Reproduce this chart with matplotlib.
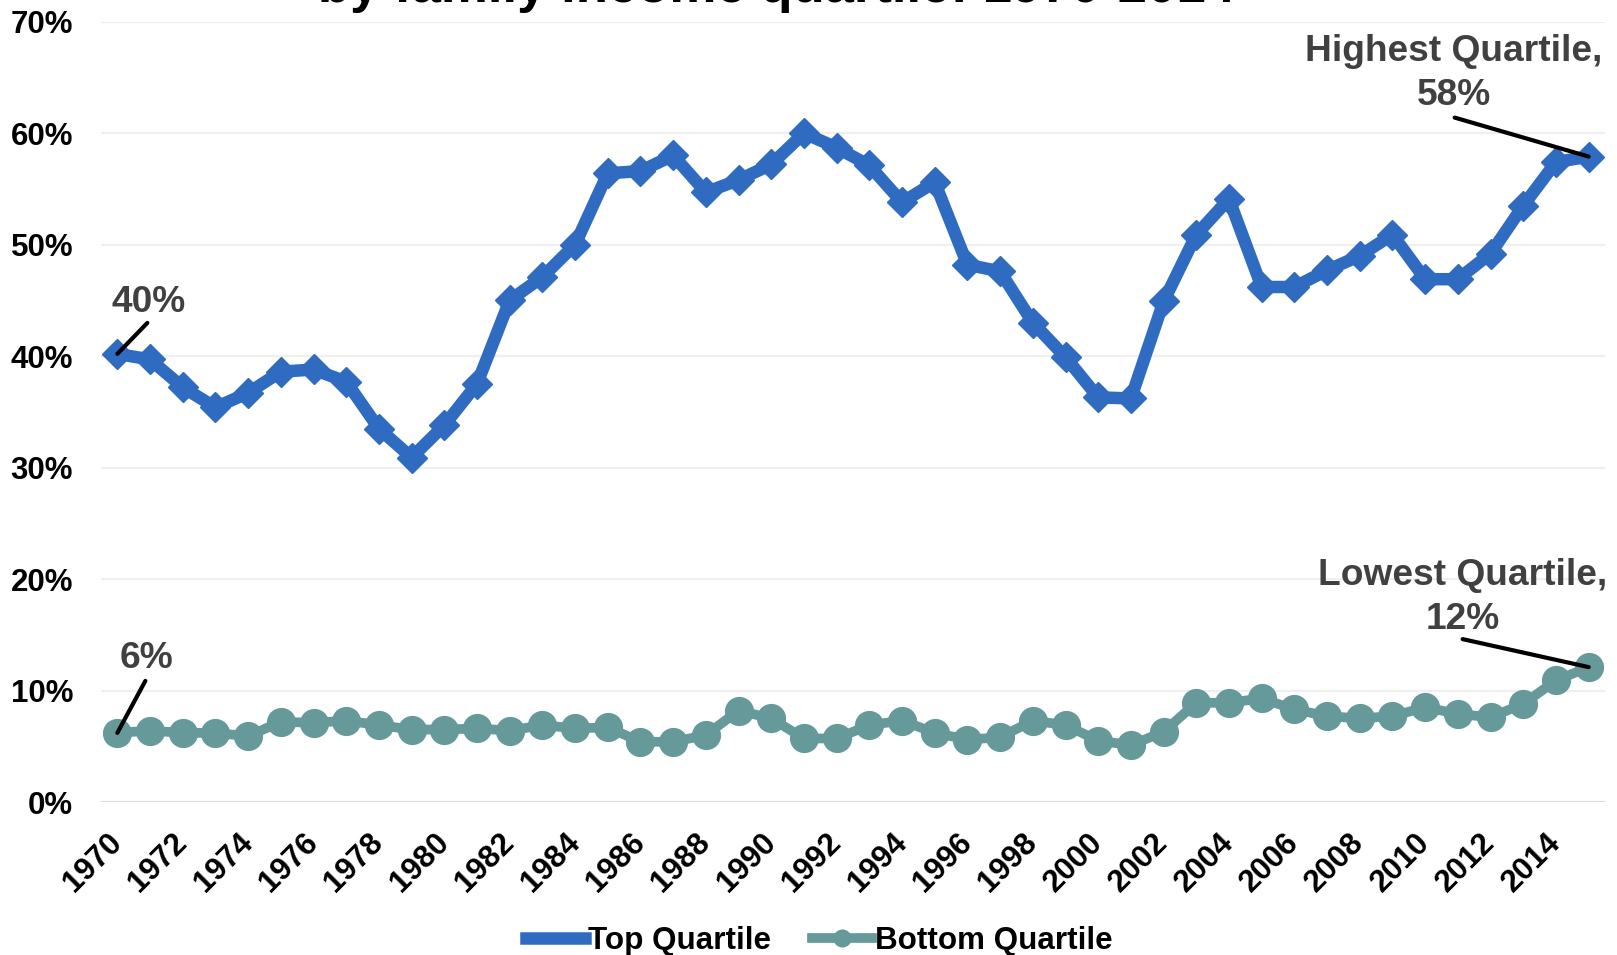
import matplotlib
matplotlib.use("Agg")
import matplotlib.pyplot as plt
from matplotlib.lines import Line2D
from matplotlib.ticker import FuncFormatter, MultipleLocator

plt.rcParams['font.family'] = ['Liberation Sans', 'DejaVu Sans']

years = list(range(1970, 2016))
top_quartile = [40.2, 39.7, 37.2, 35.4, 36.7, 38.6, 38.8, 37.7, 33.5, 30.9,
                33.8, 37.5, 45.0, 47.1, 50.0, 56.4, 56.6, 58.0, 54.7, 55.8,
                57.2, 60.0, 58.7, 57.1, 53.8, 55.6, 48.2, 47.6, 43.0, 39.9,
                36.3, 36.2, 44.9, 50.9, 54.1, 46.2, 46.2, 47.7, 49.0, 50.9,
                46.9, 46.9, 49.2, 53.5, 57.4, 57.9]
bottom_quartile = [6.2, 6.4, 6.2, 6.2, 5.9, 7.2, 7.1, 7.3, 6.9, 6.5,
                   6.5, 6.6, 6.4, 6.9, 6.6, 6.7, 5.4, 5.4, 6.0, 8.2,
                   7.5, 5.7, 5.7, 6.9, 7.3, 6.2, 5.6, 5.8, 7.3, 6.9,
                   5.5, 5.1, 6.3, 8.9, 8.9, 9.3, 8.3, 7.7, 7.5, 7.7,
                   8.5, 7.9, 7.6, 8.8, 10.9, 12.1]
tick_years = list(range(1970, 2015, 2))
series_names = ["Top Quartile", "Bottom Quartile"]
title_text = "by family income quartile: 1970-2014"

BLUE = "#2F6CC1"
TEAL = "#66999A"
LABEL_GRAY = "#404040"

W, H = 1617, 955
fig = plt.figure(figsize=(W / 100, H / 100), dpi=100)
ax_left, ax_right, ax_top, ax_bottom = 101, 1605, 21.7, 802
ax = fig.add_axes([ax_left / W, (H - ax_bottom) / H,
                   (ax_right - ax_left) / W, (ax_bottom - ax_top) / H])

ax.plot(years, top_quartile, color=BLUE, lw=9, marker='D', ms=15,
        solid_joinstyle='round', zorder=3)
ax.plot(years, bottom_quartile, color=TEAL, lw=7, marker='o', ms=20,
        solid_joinstyle='round', zorder=3)

ax.set_xlim(1969.5, 2015.5)
ax.set_ylim(0, 70)
ax.yaxis.set_major_locator(MultipleLocator(10))
ax.yaxis.set_major_formatter(FuncFormatter(lambda v, p: f"{v:.0f}%"))
ax.set_xticks(tick_years)
ax.set_xticklabels([str(y) for y in tick_years], rotation=45, ha='right',
                   va='center', rotation_mode='anchor')
ax.tick_params(axis='both', length=0, labelsize=22.5, labelcolor='black')
ax.tick_params(axis='y', pad=20)
ax.tick_params(axis='x', pad=26)
for lab in ax.get_xticklabels() + ax.get_yticklabels():
    lab.set_fontweight('bold')

for v in range(10, 80, 10):
    ax.axhline(v, color='#EFEFEF', lw=1.6, zorder=1)
ax.axhline(0, color='#D9D9D9', lw=2.2, zorder=1)
for s in ax.spines.values():
    s.set_visible(False)

def label(xv, yv, text, line_off, text_off):
    ax.annotate('', xy=(xv, yv), xytext=line_off, textcoords='offset pixels',
                arrowprops=dict(arrowstyle='-', lw=3, color='black',
                                shrinkA=0, shrinkB=0), zorder=4)
    ax.annotate(text, xy=(xv, yv), xytext=text_off, textcoords='offset pixels',
                ha='center', va='baseline', multialignment='center',
                fontsize=26.7, fontweight='bold', color=LABEL_GRAY,
                linespacing=1.32, zorder=5)

label(years[0], top_quartile[0], f"{top_quartile[0]:.0f}%", (30, 31), (31, 42))
label(years[0], bottom_quartile[0], f"{bottom_quartile[0]:.0f}%", (28, 52), (29, 65))
label(years[-1], top_quartile[-1], f"Highest Quartile,\n{top_quartile[-1]:.0f}%",
      (-134, 39), (-135, 52))
label(years[-1], bottom_quartile[-1], f"Lowest Quartile,\n{bottom_quartile[-1]:.0f}%",
      (-126, 28), (-126, 38))

handles = [Line2D([], [], color=BLUE, lw=9, marker='D', ms=5),
           Line2D([], [], color=TEAL, lw=7, marker='o', ms=12)]
leg = fig.legend(handles, series_names, loc='center',
                 bbox_to_anchor=(819 / W, 14 / H), ncol=2, frameon=False,
                 handlelength=1.9, handletextpad=0.1, columnspacing=1.3,
                 prop={'size': 22.6, 'weight': 'bold'})

fig.text(776 / W, 1 - 1.7 / H, title_text, ha='center', va='baseline',
         fontsize=38, fontweight='bold', color='black')

fig.savefig("out.png", dpi=100)
